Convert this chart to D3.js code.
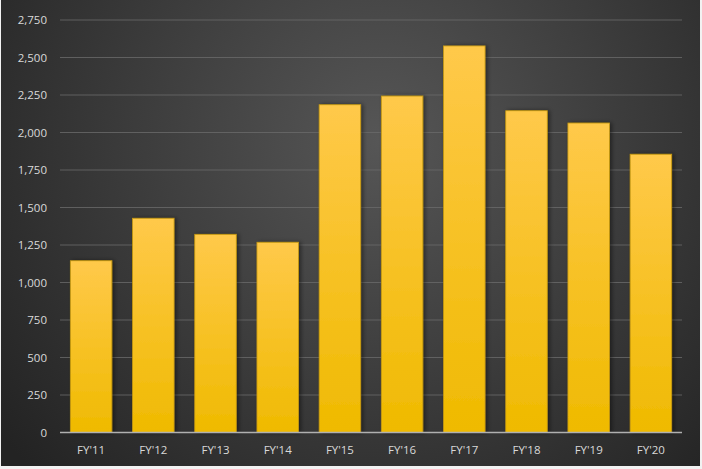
<!DOCTYPE html>
<html><head><meta charset="utf-8">
<script src="https://cdn.jsdelivr.net/npm/d3@7"></script>
<style>html,body{margin:0;padding:0;background:#f2f2f2;}svg{display:block;}</style>
</head><body>
<script>
const categories = ["FY'11","FY'12","FY'13","FY'14","FY'15","FY'16","FY'17","FY'18","FY'19","FY'20"];
const values = [1145, 1428, 1321, 1268, 2185, 2243, 2577, 2145, 2063, 1855];
const yTicks = [0,250,500,750,1000,1250,1500,1750,2000,2250,2500,2750];

const W = 702, H = 469;
const svg = d3.select("body").append("svg").attr("width", W).attr("height", H);
const defs = svg.append("defs");
const bg = defs.append("radialGradient").attr("id","bg")
  .attr("gradientUnits","userSpaceOnUse").attr("cx",380).attr("cy",140).attr("r",480);
bg.append("stop").attr("offset","0%").attr("stop-color","#565656");
bg.append("stop").attr("offset","55%").attr("stop-color","#3a3a3a");
bg.append("stop").attr("offset","100%").attr("stop-color","#232323");
const bar = defs.append("linearGradient").attr("id","bar").attr("x1",0).attr("y1",0).attr("x2",0).attr("y2",1);
bar.append("stop").attr("offset","0%").attr("stop-color","#ffc94a");
bar.append("stop").attr("offset","100%").attr("stop-color","#efba00");
const sh = defs.append("filter").attr("id","sh").attr("x","-20%").attr("y","-20%").attr("width","140%").attr("height","140%");
sh.append("feDropShadow").attr("dx",2).attr("dy",0).attr("stdDeviation",2).attr("flood-color","#000").attr("flood-opacity",0.45);

svg.append("rect").attr("x",1).attr("y",0).attr("width",W-3).attr("height",H-3).attr("fill","url(#bg)");

const x0 = 60, x1 = 682, yBase = 432.5, yTop = 20;
const x = d3.scaleBand().domain(categories).range([x0, x1]).paddingInner(0.333).paddingOuter(0.1667);
const y = d3.scaleLinear().domain([0, 2750]).range([yBase, yTop]);

// gridlines
svg.append("g").selectAll("line").data(yTicks.filter(d=>d>0)).join("line")
  .attr("x1", x0).attr("x2", x1).attr("y1", d=>y(d)).attr("y2", d=>y(d))
  .attr("stroke","#6a6a6a").attr("stroke-width",1).attr("opacity",0.8);

// bars
svg.append("g").selectAll("rect").data(values).join("rect")
  .attr("x", (d,i)=>x(categories[i])).attr("width", x.bandwidth())
  .attr("y", d=>y(d)).attr("height", d=>yBase - y(d))
  .attr("fill","url(#bar)").attr("stroke","#c89a10").attr("stroke-width",0.8)
  .attr("filter","url(#sh)");

// x axis line
svg.append("line").attr("x1",x0).attr("x2",x1).attr("y1",yBase).attr("y2",yBase)
  .attr("stroke","#b0b0b0").attr("stroke-width",1.3);

// y axis
const yAxis = d3.axisLeft(y).tickValues(yTicks).tickSize(0).tickPadding(0).tickFormat(d3.format(","));
const gy = svg.append("g").attr("transform","translate(47,0)").call(yAxis);
gy.select(".domain").remove();
gy.selectAll("text").attr("fill","#d9d9d9").attr("font-family","'Open Sans', sans-serif").attr("font-size","11.5px");

// x axis
const xAxis = d3.axisBottom(x).tickSize(0).tickPadding(0);
const gx = svg.append("g").attr("transform",`translate(0,${yBase+13})`).call(xAxis);
gx.select(".domain").remove();
gx.selectAll("text").attr("fill","#d9d9d9").attr("font-family","'Open Sans', sans-serif").attr("font-size","11.5px");
</script>
</body></html>
